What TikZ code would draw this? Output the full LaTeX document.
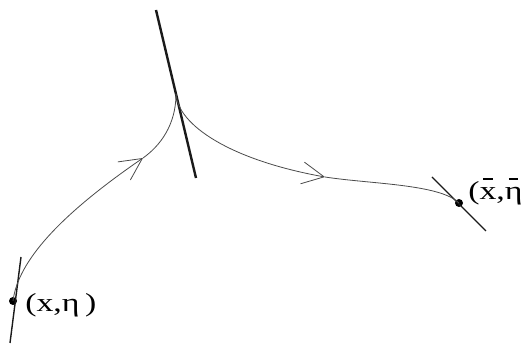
\documentclass[tikz,border=0pt]{standalone}
\usepackage{fontspec}
\setmainfont{Liberation Serif}
\usetikzlibrary{arrows.meta}
\definecolor{crvgrey}{HTML}{4A4A4A}
\definecolor{lnblack}{HTML}{1A1A1A}
\newcommand{\barsym}[1]{\ooalign{#1\cr\hidewidth\raisebox{0.78em}{\rule{0.28em}{0.05em}}\hidewidth\cr}}
\tikzstyle{flowline}=[draw=crvgrey,line width=0.8pt]
\tikzstyle{flowarrow}=[flowline,-{Straight Barb[length=22pt,width=22pt,line width=0.8pt]}]
\tikzstyle{tanline}=[draw=lnblack,line width=1.4pt]
\tikzstyle{wallline}=[draw=lnblack,line width=2.4pt]
\tikzstyle{ptdot}=[circle,fill=black,inner sep=0pt,minimum size=8pt]
\tikzstyle{ptlabel}=[anchor=base west,inner sep=0pt,xscale=1.3,font=\fontsize{26}{30}\selectfont]
\begin{document}
\begin{tikzpicture}[x=1pt,y=-1pt]
  \useasboundingbox (0,0) rectangle (523,347);
  \coordinate (cusp) at (176,94);
  \coordinate (wtop) at (156,10);
  \coordinate (wbot) at (196,178);
  \coordinate (ltop) at (21,257);
  \coordinate (lbot) at (10,343);
  \coordinate (rtop) at (432,177);
  \coordinate (rbot) at (486,231);
  \coordinate (arrA) at (143,158);
  \coordinate (arrB) at (325,177);
  \node[ptdot] (start) at (13,301) {};
  \node[ptdot] (end) at (459,203) {};
  \draw[wallline] (wtop) -- (wbot);
  \draw[tanline] (ltop) -- (lbot);
  \draw[tanline] (rtop) -- (rbot);
  \draw[flowarrow] (start.center) .. controls (18,261) and (60,215) .. (arrA);
  \draw[flowline] (arrA) .. controls (160,146) and (176,125) .. (cusp);
  \draw[flowarrow] (cusp) .. controls (178,125) and (230,160) .. (arrB);
  \draw[flowline] (arrB) .. controls (370,184) and (440,184) .. (end.center);
  \node[ptlabel] (startlbl) at (25,312) {(x,η\,)};
  \node[ptlabel] (endlbl) at (468,200) {(\barsym{x},\barsym{η}\,)};
\end{tikzpicture}
\end{document}
